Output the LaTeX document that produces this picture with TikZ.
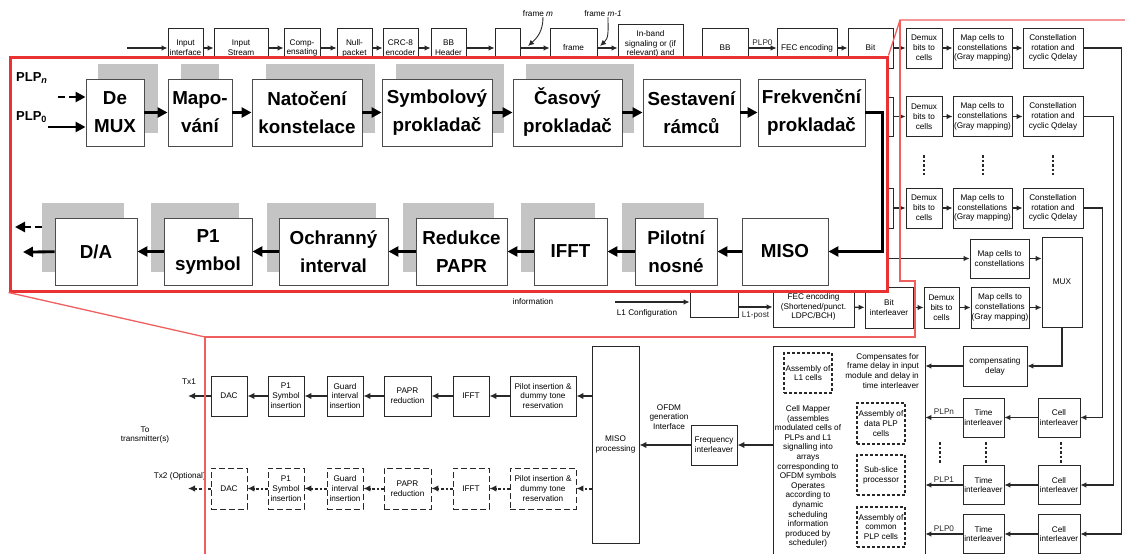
\documentclass[tikz,border=0pt]{standalone}
\usepackage{fontspec}
\setmainfont{Liberation Sans}
\usepackage{tikz}
\usetikzlibrary{arrows.meta, positioning, calc}

\definecolor{framered}{RGB}{235, 50, 50}
\definecolor{linkred}{RGB}{240, 95, 95}
\definecolor{shadegray}{RGB}{196, 196, 196}
\definecolor{inkgray}{RGB}{40, 40, 40}

\newcommand{\tinyfont}{\fontsize{8.2}{9.8}\selectfont}
\newcommand{\bigfont}{\fontsize{18.8}{28}\selectfont\bfseries}

\tikzset{
  blk/.style={draw=inkgray, fill=white, line width=0.8pt, inner xsep=0.5pt, inner ysep=1pt, align=center, font=\tinyfont},
  dblk/.style={blk, dash pattern=on 6pt off 3pt},
  asm/.style={blk, line width=1.4pt, dash pattern=on 3pt off 2pt},
  arr/.style={inkgray, line width=1.1pt, -{Latex[length=6pt, width=5.5pt]}},
  txarr/.style={arr, line width=1.7pt, -{Latex[length=7pt, width=6.5pt]}},
  dotarr/.style={txarr, line width=2pt, dash pattern=on 2.5pt off 2pt},
  dots/.style={inkgray, line width=1.3pt, dash pattern=on 2.5pt off 2pt},
  lbl/.style={font=\tinyfont, align=center, inner sep=0pt},
  czblk/.style={draw=black!70, fill=white, line width=0.9pt, inner sep=0pt, align=center, font=\bigfont, minimum height=67pt},
  czarr/.style={line width=2.8pt, -{Triangle[length=10pt, width=10pt]}},
  linkline/.style={linkred, line width=1.3pt},
}

\begin{document}
\begin{tikzpicture}[x=1pt, y=-1pt]
  \useasboundingbox (0,0) rectangle (1125,554);
  \clip (0,0) rectangle (1125,554);

  % Input processing (top strip, mostly hidden)
  \coordinate (tsin) at (127,48);
  \node[blk, minimum width=35pt, minimum height=40pt] (inif) at (185.5,48) {Input\\interface};
  \node[blk, minimum width=54pt, minimum height=40pt] (instr) at (241,48) {Input\\Stream};
  \node[blk, minimum width=36pt, minimum height=40pt] (cmpn) at (302,48) {Comp-\\ensating};
  \node[blk, minimum width=35pt, minimum height=40pt] (null) at (354.5,48) {Null-\\packet};
  \node[blk, minimum width=35pt, minimum height=40pt] (crc) at (400.5,48) {CRC-8\\encoder};
  \node[blk, minimum width=35pt, minimum height=40pt] (bbh) at (448.5,48) {BB\\Header};
  \node[blk, minimum width=25pt, minimum height=40pt] (blank) at (507.5,48) {};
  \node[blk, minimum width=47pt, minimum height=40pt] (frm) at (573.5,48) {frame};
  \node[blk, minimum width=65pt, minimum height=40pt] (inband) at (650.5,44) {In-band\\signaling or (if\\relevant) and};
  \node[blk, minimum width=46pt, minimum height=40pt] (bbs) at (725,48) {BB};
  \node[blk, minimum width=60pt, minimum height=40pt] (fec) at (807,48) {FEC encoding};
  \node[blk, minimum width=45pt, minimum height=40pt] (bit) at (870.5,48) {Bit};
  \node[blk, minimum width=45pt, minimum height=39pt] (bit1) at (870.5,116.5) {};
  \node[blk, minimum width=45pt, minimum height=40pt] (bitn) at (870.5,208) {};
  \draw[arr] (tsin) -- (inif);
  \foreach \a/\b in {inif/instr, instr/cmpn, cmpn/null, null/crc, crc/bbh, bbh/blank, blank/frm, frm/inband, fec/bit}
    \draw[arr] (\a.east |- tsin) -- (\b.west |- tsin);
  \draw[arr] (bbs.east |- tsin) -- node[lbl, above=2pt] (plp0top) {PLP0} (fec.west |- tsin);

  \node[lbl] (fm) at (538,14) {frame \textit{m}};
  \node[lbl] (fm1) at (603,14) {frame \textit{m-1}};
  \coordinate (fmtip) at (528,46);
  \coordinate (fm1tip) at (600,46);
  \draw[arr, line width=0.9pt] ([xshift=5pt]fm.south) .. controls +(0,14) and +(9,-8) .. (fmtip);
  \draw[arr, line width=0.9pt] ([xshift=5pt]fm1.south) .. controls +(0,14) and +(9,-8) .. (fm1tip);

  % Bit interleaved coding and modulation per PLP
  \foreach \r/\y in {0/48, 1/116.5, n/208} {
    \node[blk, minimum width=36pt, minimum height=40pt] (dm\r) at (924,\y) {Demux\\bits to\\cells};
    \node[blk, minimum width=59pt, minimum height=40pt] (mp\r) at (982.5,\y) {Map cells to\\constellations\\(Gray mapping)};
    \node[blk, minimum width=60pt, minimum height=40pt] (rt\r) at (1053,\y) {Constellation\\rotation and\\cyclic Qdelay};
    \draw[arr] (dm\r) -- (mp\r);
    \draw[arr] (mp\r) -- (rt\r);
  }
  \draw[arr] (bit) -- (dm0);
  \draw[arr] (bit1) -- (dm1);
  \draw[arr] (bitn) -- (dmn);
  \foreach \x in {924, 983, 1053}
    \draw[dots] (\x,155) -- (\x,175);

  % L1 signalling
  \coordinate (l1pre) at (880,258.5);
  \node[blk, minimum width=59pt, minimum height=39pt] (mpa) at (999.5,258.5) {Map cells to\\constellations};
  \node[blk, minimum width=40pt, minimum height=90pt] (mux) at (1062,282) {MUX};
  \node[blk, minimum width=35pt, minimum height=41pt] (dml1) at (941.5,307.5) {Demux\\bits to\\cells};
  \node[blk, minimum width=58pt, minimum height=41pt] (mpb) at (1000,307.5) {Map cells to\\constellations\\(Gray mapping)};
  \node[blk, minimum width=48pt, minimum height=41pt] (bitl1) at (889,307.5) {Bit\\interleaver};
  \node[blk, minimum width=81pt, minimum height=40pt] (fecl1) at (813.5,307) {FEC encoding\\(Shortened/punct.\\LDPC/BCH)};
  \node[blk, minimum width=48pt, minimum height=30pt] (l1sig) at (714,302) {};
  \node[lbl] (info) at (533,302) {information};
  \coordinate (cfgin) at (615,302);
  \node[lbl] (l1cfg) at (647,313) {L1 Configuration};
  \draw[arr] (cfgin) -- (l1sig.west);
  \draw[arr] (l1sig.east |- fecl1.west) -- node[lbl, below=4pt] (l1post) {L1-post} (fecl1.west);
  \draw[arr] (fecl1) -- (bitl1);
  \draw[arr] (bitl1) -- (dml1);
  \draw[arr] (dml1) -- (mpb);
  \draw[arr] (l1pre) -- (mpa);
  \draw[arr] (mpa) -- (mpa -| mux.west);
  \draw[arr] (mpb) -- (mpb -| mux.west);

  % Frame builder
  \node[blk, minimum width=64pt, minimum height=40pt] (cdly) at (995,366) {compensating\\delay};
  \node[blk, minimum width=152pt, minimum height=214pt] (cmap) at (849,453) {};
  \foreach \r/\y in {n/417.5, 1/485, 0/534} {
    \node[blk, minimum width=41pt, minimum height=39pt] (ti\r) at (983.5,\y) {Time\\interleaver};
    \node[blk, minimum width=42pt, minimum height=39pt] (ci\r) at (1059,\y) {Cell\\interleaver};
    \draw[arr] (ci\r) -- (ti\r);
    \draw[arr] (ti\r.west) -- node[lbl, above=2pt] {PLP\r} (ti\r.west -| cmap.east);
  }
  \foreach \x in {940, 986, 1061}
    \draw[dots] (\x,442) -- (\x,463);
  \draw[arr] (rtn.east) -- ++(19,0) |- (cin.east);
  \draw[arr] (rt1.east) -- ++(30,0) |- (ci1.east);
  \draw[arr] (rt0.east) -- ++(38,0) |- (ci0.east);
  \draw[arr] (mux.south) |- (cdly.east);
  \draw[arr] (cdly.west) -- (cdly.west -| cmap.east);

  \node[asm, minimum width=48pt, minimum height=40pt] (asml1) at (808,373) {Assembly of\\L1 cells};
  \node[lbl, anchor=north east, align=right] (cmpnote) at (919,353) {Compensates for\\frame delay in input\\module and delay in\\time interleaver};
  \node[asm, minimum width=48pt, minimum height=41pt] (asmdata) at (881,423.5) {Assembly of\\data PLP\\cells};
  \node[asm, minimum width=48pt, minimum height=40pt] (subsl) at (881,475) {Sub-slice\\processor};
  \node[asm, minimum width=48pt, minimum height=40pt] (asmcom) at (881,527) {Assembly of\\common\\PLP cells};
  \node[lbl, font=\fontsize{8.2}{9.6}\selectfont] (cmtext) at (808,476.5) {Cell Mapper\\(assembles\\modulated cells of\\PLPs and L1\\signalling into\\arrays\\corresponding to\\OFDM symbols\\Operates\\according to\\dynamic\\scheduling\\information\\produced by\\scheduler)};

  % OFDM generation
  \node[blk, minimum width=46pt, minimum height=40pt] (fint) at (714,445) {Frequency\\interleaver};
  \node[blk, minimum width=47pt, minimum height=197pt] (miso) at (615.5,444.5) {MISO\\processing};
  \node[lbl] (ofdm) at (669,417) {OFDM\\generation\\Interface};
  \draw[txarr] (fint.east -| cmap.west) -- (fint.east);
  \draw[txarr] (fint.west) -- (fint.west -| miso.east);

  \node[blk, minimum width=66pt, minimum height=40pt] (pil1) at (543,396) {Pilot insertion \&\\dummy tone\\reservation};
  \node[blk, minimum width=36pt, minimum height=40pt] (ifft1) at (471,396) {IFFT};
  \node[blk, minimum width=47pt, minimum height=40pt] (papr1) at (407.5,396) {PAPR\\reduction};
  \node[blk, minimum width=36pt, minimum height=40pt] (gi1) at (345,396) {Guard\\interval\\insertion};
  \node[blk, minimum width=36pt, minimum height=40pt] (p1s1) at (286,396) {P1\\Symbol\\insertion};
  \node[blk, minimum width=36pt, minimum height=40pt] (dac1) at (229,396) {DAC};
  \node[dblk, minimum width=66pt, minimum height=41pt] (pil2) at (543,488.5) {Pilot insertion \&\\dummy tone\\reservation};
  \node[dblk, minimum width=36pt, minimum height=41pt] (ifft2) at (471,488.5) {IFFT};
  \node[dblk, minimum width=47pt, minimum height=41pt] (papr2) at (407.5,488.5) {PAPR\\reduction};
  \node[dblk, minimum width=36pt, minimum height=41pt] (gi2) at (345,488.5) {Guard\\interval\\insertion};
  \node[dblk, minimum width=36pt, minimum height=41pt] (p1s2) at (286,488.5) {P1\\Symbol\\insertion};
  \node[dblk, minimum width=36pt, minimum height=41pt] (dac2) at (229,488.5) {DAC};
  \coordinate (tx1) at (188,396);
  \coordinate (tx2) at (188,488.5);
  \draw[txarr] (pil1.east -| miso.west) -- (pil1.east);
  \draw[dotarr] (pil2.east -| miso.west) -- (pil2.east);
  \foreach \a/\b in {pil1/ifft1, ifft1/papr1, papr1/gi1, gi1/p1s1, p1s1/dac1}
    \draw[txarr] (\a) -- (\b);
  \foreach \a/\b in {pil2/ifft2, ifft2/papr2, papr2/gi2, gi2/p1s2, p1s2/dac2}
    \draw[dotarr] (\a) -- (\b);
  \draw[txarr] (dac1) -- (tx1);
  \draw[dotarr] (dac2) -- (tx2);
  \node[lbl] (tx1lbl) at (189,382) {Tx1};
  \node[lbl, anchor=east] (tx2lbl) at (206,476) {Tx2 (Optional)};
  \node[lbl] (totx) at (145,435) {To\\transmitter(s)};

  % Zoomed region outline
  \node[draw=framered, line width=3pt, fill=white, minimum width=877pt, minimum height=234pt, inner sep=0pt] (zm) at (448.5,174) {};
  \coordinate (r1) at (900,20);
  \coordinate (r2) at (1125,20);
  \coordinate (r3) at (900,281);
  \coordinate (r4) at (915,281);
  \coordinate (r5) at (915,337);
  \coordinate (r6) at (205,337);
  \coordinate (r7) at (205,554);
  \draw[linkline] (zm.north east) -- (r1) -- (r2);
  \draw[linkline] (r1) -- (r3) -- (r4) -- (r5) -- (r6) -- (r7);
  \draw[linkline] (zm.south west) -- (r6);

  % Simplified chain (Czech)
  \fill[shadegray] (98,64) rectangle (158,133);
  \fill[shadegray] (181,64) rectangle (219,133);
  \fill[shadegray] (266,64) rectangle (375,133);
  \fill[shadegray] (396,64) rectangle (504,133);
  \fill[shadegray] (526,64) rectangle (634,133);
  \fill[shadegray] (42,203) rectangle (124,272);
  \fill[shadegray] (151,203) rectangle (239,272);
  \fill[shadegray] (267,203) rectangle (376,272);
  \fill[shadegray] (403,203) rectangle (494,272);
  \fill[shadegray] (521,203) rectangle (595,272);
  \fill[shadegray] (622,203) rectangle (704,272);

  \node[czblk, minimum width=58pt] (cdmx) at (115,112.5) {De\\MUX};
  \node[czblk, minimum width=64pt] (cmapo) at (200,112.5) {Mapo-\\vání};
  \node[czblk, minimum width=110pt] (crot) at (307,112.5) {Natočení\\konstelace};
  \node[czblk, minimum width=110pt] (csym) at (437,112.5) {Symbolový\\prokladač};
  \node[czblk, minimum width=109pt] (ctim) at (567.5,112.5) {Časový\\prokladač};
  \node[czblk, minimum width=97pt] (cfrm) at (691.5,112.5) {Sestavení\\rámců};
  \node[czblk, minimum width=107pt] (cfrq) at (811.5,112.5) {Frekvenční\\prokladač};
  \node[czblk, minimum width=86pt] (cmiso) at (785,251.5) {MISO};
  \node[czblk, minimum width=82pt] (cpil) at (676,251.5) {Pilotní\\nosné};
  \node[czblk, minimum width=73pt] (cifft) at (570.5,251.5) {IFFT};
  \node[czblk, minimum width=91pt] (cpapr) at (461.5,251.5) {Redukce\\PAPR};
  \node[czblk, minimum width=109pt] (cgi) at (333.5,251.5) {Ochranný\\interval};
  \node[czblk, minimum width=88pt] (cp1) at (208,251.5) {P1\\symbol};
  \node[czblk, minimum width=82pt] (cda) at (96,251.5) {D/A};

  \node[anchor=west, font=\fontsize{13}{15}\selectfont\bfseries, inner sep=0pt] (plpn) at (16,78) {PLP\textsubscript{\textit{n}}};
  \node[anchor=west, font=\fontsize{13}{15}\selectfont\bfseries, inner sep=0pt] (plp0) at (16,117) {PLP\textsubscript{0}};
  \coordinate (inn) at (58,97);
  \coordinate (in0) at (48,127);
  \coordinate (outa) at (23,252);
  \coordinate (outb1) at (42,227);
  \coordinate (outb2) at (15,227);
  \draw[czarr, dash pattern=on 7pt off 4pt] (inn) -- (inn -| cdmx.west);
  \draw[czarr] (in0) -- (in0 -| cdmx.west);
  \foreach \a/\b in {cdmx/cmapo, cmapo/crot, crot/csym, csym/ctim, ctim/cfrm, cfrm/cfrq, cmiso/cpil, cpil/cifft, cifft/cpapr, cpapr/cgi, cgi/cp1, cp1/cda}
    \draw[czarr] (\a) -- (\b);
  \draw[czarr] (cfrq.east) -- ++(17,0) |- (cmiso.east);
  \draw[czarr] (cda) -- (outa);
  \draw[czarr, dash pattern=on 7pt off 4pt] (outb1) -- (outb2);
\end{tikzpicture}
\end{document}
